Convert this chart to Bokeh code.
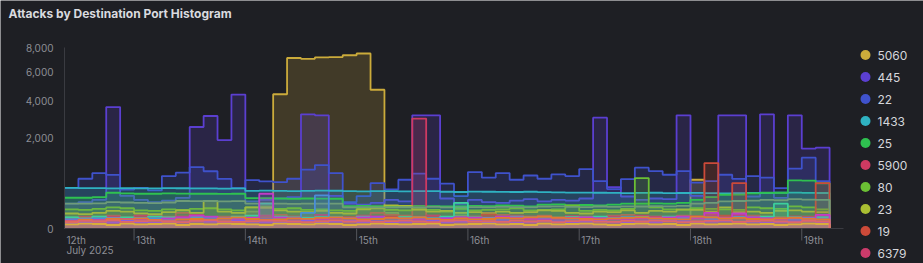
import numpy as np
from datetime import datetime, timedelta
from bokeh.plotting import figure
from bokeh.models import Range1d
from bokeh.core.properties import value
from bokeh.embed import file_html
from bokeh.resources import INLINE

# ---------------- data (3-hour bins starting 2025-07-12 09:00) ----------------
ports = ["5060", "445", "22", "1433", "25", "5900", "80", "23", "19", "6379"]
port_colors = ["#cbab3b", "#5b3fd1", "#3f52cc", "#2fb2c2", "#2fc150",
               "#cf3a62", "#6bbf34", "#a9be32", "#cc4a39", "#cc3b6b"]

p5060 = [30, 22, 35, 28, 25, 18, 22, 30, 35, 28, 25, 20, 30, 70, 40,
         4400, 7100, 7030, 7150, 7180, 7330, 7480, 4700,
         60, 35, 28, 25, 30, 40, 35, 25, 30, 22, 28, 35, 30, 25, 28, 30, 25, 22, 30, 35, 28, 30,
         580,
         40, 35, 30, 25, 28, 30, 25, 22, 20]
p445 = [150, 170, 200, 3600, 260, 200, 170, 190, 230, 2515, 3090, 1910, 4380, 180, 200,
        220, 240, 3185, 3130, 260, 150, 140, 160, 200, 180, 3130, 3130, 220, 150, 200,
        170, 160, 190, 210, 180, 200, 190, 220, 3000, 418, 250, 200, 220, 210, 3130,
        260, 240, 3130, 3130, 250, 3185, 230, 3130, 1556, 1595]
p22 = [405, 605, 750, 700, 370, 405, 354, 670, 760, 920, 800, 600, 400, 572, 540,
       525, 605, 844, 982, 750, 170, 256, 503, 372, 580, 733, 605, 490, 256, 777,
       630, 750, 580, 686, 605, 715, 670, 862, 548, 380, 596, 903, 806, 706, 806,
       512, 550, 706, 600, 670, 630, 400, 873, 1225, 548]
p1433 = [405, 400, 398, 395, 400, 395, 392, 398, 396, 394, 392, 390, 395,
         345, 350, 345, 342, 345, 350, 348, 340, 335, 342,
         340, 338, 342, 340, 330, 325, 332, 330, 328, 325, 330, 322, 320, 315,
         315, 312, 310, 305, 310, 312, 305, 308, 310, 305, 300, 305, 310, 308, 312, 315, 310, 308]
p25 = [231, 231, 240, 312, 300, 295, 295, 300, 298, 295,
       295, 292, 295, 225, 225, 220, 216, 220, 218, 216,
       122, 125, 122, 120, 118, 125, 122, 120, 118, 125,
       122, 130, 128, 120, 140, 141, 130, 135, 130, 140,
       150, 150, 155, 150, 160, 200, 240, 278, 280, 300,
       312, 312, 565, 560, 500]
p5900 = [20, 35, 25, 40, 30, 25, 45, 35, 60, 40,
         30, 35, 25, 40, 30, 45, 35, 30, 40, 25,
         30, 35, 60, 45, 40, 2950, 40, 30, 35, 25,
         60, 45, 30, 35, 40, 30, 25, 35, 30, 40,
         45, 35, 30, 25, 40, 35, 50, 30, 45, 40,
         35, 30, 25, 35, 30]
p80 = [90, 85, 95, 110, 100, 80, 75, 90, 85, 95,
       100, 90, 80, 110, 120, 95, 100, 85, 90, 80,
       75, 95, 110, 85, 80, 90, 85, 70, 95, 80,
       85, 90, 100, 80, 85, 90, 130, 75, 85, 80,
       95, 620, 110, 90, 85, 100, 95, 90, 85, 110,
       100, 95, 120, 110, 90]
p23 = [55, 50, 60, 75, 70, 55, 50, 65, 80, 60,
       183, 70, 60, 110, 105, 80, 70, 65, 75, 60,
       55, 90, 100, 130, 125, 88, 70, 75, 60, 65,
       55, 70, 60, 65, 80, 75, 60, 55, 70, 65,
       80, 60, 75, 70, 90, 85, 70, 110, 65, 70,
       60, 75, 80, 70, 65]
p19 = [15, 20, 25, 18, 22, 30, 20, 25, 18, 22,
       28, 20, 25, 30, 22, 18, 25, 20, 28, 22,
       30, 25, 20, 35, 28, 22, 30, 25, 20, 28,
       48, 25, 20, 22, 30, 25, 28, 20, 25, 22,
       30, 28, 25, 20, 30, 35, 1045, 40, 503, 30,
       25, 28, 35, 30, 503]
p6379 = [25, 30, 20, 35, 28, 40, 30, 25, 35, 45,
         30, 28, 35, 25, 40, 30, 35, 28, 45, 30,
         25, 40, 35, 30, 28, 35, 40, 30, 25, 35,
         30, 28, 40, 35, 30, 25, 38, 30, 28, 35,
         30, 40, 35, 28, 30, 35, 40, 30, 45, 35,
         30, 28, 35, 30, 40]

# further ports (not shown in the legend)
extra_colors = ["#6e9c78", "#3ccf9c", "#4a8ed8", "#c03cc8", "#e07a30", "#8c5ce0", "#d8c030", "#e0686a"]
x_sage = [150, 150, 155, 170, 165, 160, 158, 165, 185, 183,
          185, 180, 183, 150, 155, 150, 148, 152, 150, 150,
          110, 112, 110, 108, 112, 110, 115, 110, 108, 112,
          110, 115, 112, 110, 118, 120, 115, 112, 118, 115,
          120, 118, 122, 120, 125, 150, 160, 180, 185, 190,
          200, 195, 210, 205, 200]
x_teal = [30, 25, 35, 28, 30, 25, 35, 30, 28, 32,
          30, 25, 35, 40, 150, 35, 30, 28, 32, 30,
          25, 35, 30, 28, 32, 30, 25, 35, 160, 30,
          28, 32, 35, 30, 25, 28, 32, 30, 35, 28,
          30, 32, 28, 35, 30, 25, 30, 28, 32, 30,
          35, 150, 30, 28, 32]
x_sky = [20, 18, 25, 22, 20, 28, 25, 20, 22, 25,
         30, 28, 25, 22, 20, 25, 28, 60, 267, 30,
         25, 22, 28, 25, 20, 22, 25, 28, 30, 25,
         22, 20, 25, 28, 22, 25, 20, 22, 25, 28,
         30, 25, 22, 20, 25, 28, 22, 25, 30, 28,
         25, 22, 20, 25, 22]
x_magenta = [15, 20, 18, 25, 22, 20, 18, 25, 30, 41,
             35, 25, 20, 28, 295, 30, 25, 20, 22, 28,
             25, 30, 35, 28, 25, 20, 22, 25, 30, 28,
             25, 35, 30, 22, 20, 25, 28, 30, 25, 22,
             20, 25, 28, 30, 35, 25, 60, 28, 55, 30,
             25, 22, 28, 25, 45]
x_orange = [12, 18, 15, 22, 20, 25, 18, 15, 20, 22,
            18, 25, 30, 22, 18, 20, 25, 22, 28, 30,
            25, 20, 22, 28, 25, 30, 22, 18, 25, 20,
            22, 28, 25, 30, 35, 28, 25, 22, 20, 25,
            28, 30, 25, 22, 20, 35, 30, 25, 28, 22,
            20, 25, 28, 22, 20]
x_violet = [8, 10, 12, 9, 15, 10, 8, 12, 10, 14,
            12, 10, 15, 12, 10, 8, 12, 15, 10, 12,
            14, 10, 12, 8, 10, 12, 15, 10, 12, 14,
            10, 12, 8, 10, 15, 12, 10, 12, 14, 10,
            8, 12, 10, 15, 12, 10, 12, 14, 10, 12,
            8, 10, 12, 15, 10]
x_gold = [4, 6, 5, 3, 6, 4, 5, 6, 3, 5,
          4, 6, 5, 4, 3, 6, 5, 4, 6, 5,
          3, 4, 6, 5, 4, 5, 6, 3, 4, 5,
          6, 4, 5, 3, 6, 4, 5, 6, 4, 3,
          5, 6, 4, 5, 3, 6, 4, 5, 6, 4,
          5, 3, 4, 6, 5]
x_salmon = [10, 14, 12, 16, 11, 13, 15, 12, 10, 14,
            16, 12, 11, 13, 15, 14, 12, 10, 13, 16,
            12, 14, 11, 13, 15, 12, 10, 14, 16, 12,
            13, 11, 15, 12, 14, 10, 13, 16, 12, 11,
            14, 12, 15, 13, 10, 12, 14, 16, 11, 13,
            15, 12, 10, 14, 12]

y_tick_values = [0, 2000, 4000, 6000, 8000]
y_tick_labels = ["0", "2,000", "4,000", "6,000", "8,000"]
x_tick_days = [13, 14, 15, 16, 17, 18, 19]
x_tick_labels = ["13th", "14th", "15th", "16th", "17th", "18th", "19th"]
first_label = ["12th", "July 2025"]
title_text = "Attacks by Destination Port Histogram"

# ---------------- layout geometry (pixels of the 923x263 canvas) ----------------
W, H = 923, 263
FL, FR, FT, FB = 64, 843, 47, 228          # plotting area: left, right, top(8000), bottom(0)

epoch = datetime(1970, 1, 1)
def ms(d):
    return (d - epoch).total_seconds() * 1000.0

t_start = datetime(2025, 7, 12, 9)
t_end = datetime(2025, 7, 19, 9)
ms_per_px = (ms(t_end) - ms(t_start)) / (FR - FL)
ymax = np.sqrt(max(y_tick_values))
k = (FB - FT) / ymax                          # px per sqrt-unit

def px_x(px):
    return ms(t_start) + (px - FL) * ms_per_px

def px_y(py):
    return (FB - py) / k

n_bins = len(p5060)
edges = np.array([ms(t_start + timedelta(hours=3 * i)) for i in range(n_bins + 1)])
day_ticks = [ms(datetime(2025, 7, d)) for d in x_tick_days]

BG = "#1e1f24"
AXIS = "#3a3b41"
TICK = "#55565c"
TXT = "#8d8e95"
FONT = value("Inter")

p = figure(width=W, height=H,
           x_range=Range1d(px_x(0), px_x(W)), y_range=Range1d(px_y(H), px_y(0)),
           output_backend="svg", toolbar_location=None,
           x_axis_location=None, y_axis_location=None, min_border=0,
           background_fill_color=BG, border_fill_color=BG)
p.outline_line_color = None
p.outline_line_alpha = 0
p.grid.visible = False

series = list(zip([p5060, p445, p22, p1433, p25, p5900, p80, p23, p19, p6379], port_colors))
series += list(zip([x_sage, x_teal, x_sky, x_magenta, x_orange, x_violet, x_gold, x_salmon], extra_colors))

for vals, col in series:
    assert len(vals) == n_bins
    v = np.sqrt(np.asarray(vals, dtype=float))     # square-root value axis
    p.varea_step(x=edges, y1=np.zeros(n_bins + 1), y2=np.append(v, v[-1]),
                 step_mode="after", fill_color=col, fill_alpha=0.2)
    xs = np.append(edges, edges[-1])
    ys = np.concatenate([v, [v[-1], 0.0]])
    p.step(x=xs, y=ys, mode="after", line_color=col, line_width=1.8)

# axes
p.segment(x0=[ms(t_start)], y0=[0], x1=[ms(t_start)], y1=[ymax], line_color=AXIS, line_width=1)
p.segment(x0=[ms(t_start)], y0=[0], x1=[ms(t_end)], y1=[0], line_color=AXIS, line_width=1)
p.segment(x0=day_ticks, y0=[0] * len(day_ticks), x1=day_ticks, y1=[px_y(FB + 12)] * len(day_ticks),
          line_color=TICK, line_width=1)
p.text(x=day_ticks, y=[0] * len(day_ticks), text=x_tick_labels, x_offset=2, y_offset=5,
       text_font=FONT, text_font_size="10px", text_color=TXT,
       text_align="left", text_baseline="top")
p.text(x=[ms(t_start)] * 2, y=[0, 0], text=first_label, x_offset=2, y_offset=[5, 15],
       text_font=FONT, text_font_size="10px", text_color=TXT,
       text_align="left", text_baseline="top")
p.text(x=[px_x(FL - 11)] * len(y_tick_values), y=list(np.sqrt(y_tick_values)), text=y_tick_labels,
       text_font=FONT, text_font_size="10px", text_color=TXT,
       text_align="right", text_baseline="middle")

# title
p.text(x=[px_x(8)], y=[px_y(13)], text=[title_text], text_font=FONT, text_font_size="12px",
       text_font_style="bold", text_color="#d9dadf", text_align="left", text_baseline="middle")

# legend
ly = [px_y(54.5 + 22 * i) for i in range(len(ports))]
p.scatter(x=[px_x(865)] * len(ports), y=ly, size=10, fill_color=port_colors, line_color=None)
p.text(x=[px_x(877)] * len(ports), y=ly, text=ports, text_font=FONT,
       text_font_size="12px", text_color="#d5d6db", text_baseline="middle", text_align="left")

open("out.html", "w").write(file_html(p, INLINE))
